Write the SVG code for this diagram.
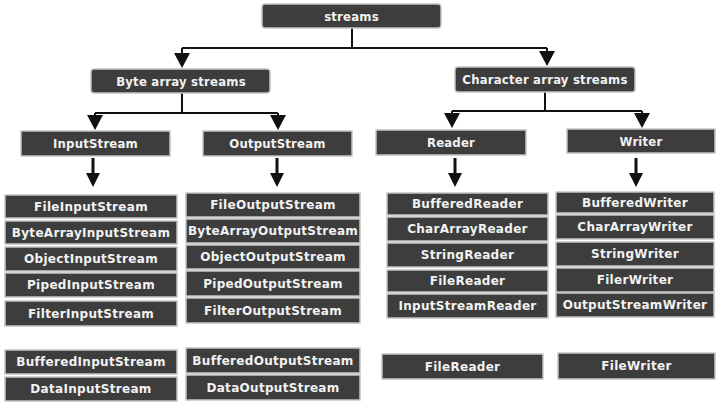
<svg xmlns="http://www.w3.org/2000/svg" width="723" height="406" viewBox="0 0 723 406">
<style>
.b{fill:#3d3d3d;stroke:#c4c4c4;stroke-width:1.5}
.t{fill:#f2f2f2;font-family:"DejaVu Sans",Verdana,sans-serif;font-weight:bold;font-size:12px;letter-spacing:0.3px;text-anchor:middle;dominant-baseline:central}
.h{fill:#f2f2f2;font-family:"DejaVu Sans Condensed","DejaVu Sans",sans-serif;font-weight:bold;font-size:13px;letter-spacing:0.2px;text-anchor:middle;dominant-baseline:central}
.c{fill:none;stroke:#111;stroke-width:2}
.k{fill:none;stroke:#111;stroke-width:3}
.a{fill:#111}
</style>
<rect width="723" height="406" fill="#fff"/>
<g id="connectors">
<path class="c" d="M352 28V48M182 48H547M182 48V55M547 48V53"/>
<polygon class="a" points="174,53 190,53 182,68"/>
<polygon class="a" points="539,51 555,51 547,66"/>
<path class="c" d="M182 93V113M95 113H278M95 113V117M278 113V117"/>
<polygon class="a" points="87,115 103,115 95,130"/>
<polygon class="a" points="270,115 286,115 278,130"/>
<path class="c" d="M545 92V111M452 111H642M452 111V115M642 111V115"/>
<polygon class="a" points="444,113 460,113 452,128"/>
<polygon class="a" points="634,113 650,113 642,128"/>
<path class="k" d="M93 158V175M277 158V175M455 158V175M636 158V175"/>
<polygon class="a" points="86,173 100,173 93,187"/>
<polygon class="a" points="270,173 284,173 277,187"/>
<polygon class="a" points="448,173 462,173 455,187"/>
<polygon class="a" points="629,173 643,173 636,187"/>
</g>
<g id="streams"><rect class="b" x="262" y="4" width="179" height="24" rx="3"/><text class="h" x="351.5" y="16">streams</text></g>
<g id="byte-array-streams"><rect class="b" x="91" y="69" width="179" height="24" rx="3"/><text class="h" x="181" y="81">Byte array streams</text></g>
<g id="character-array-streams"><rect class="b" x="455" y="67" width="180" height="25" rx="3"/><text class="h" x="545" y="79.5">Character array streams</text></g>
<g id="inputstream"><rect class="b" x="21" y="131" width="149" height="25"/><text class="h" x="95.5" y="143.5">InputStream</text></g>
<g id="outputstream"><rect class="b" x="203" y="131" width="149" height="25"/><text class="h" x="277.5" y="143.5">OutputStream</text></g>
<g id="reader"><rect class="b" x="376" y="130" width="150" height="25"/><text class="h" x="451" y="142.5">Reader</text></g>
<g id="writer"><rect class="b" x="567" y="129" width="148" height="24"/><text class="h" x="641" y="141">Writer</text></g>

<g id="fileinputstream"><rect class="b" x="5" y="195" width="172" height="23"/><text class="t" x="91" y="206.5">FileInputStream</text></g>
<g id="bytearrayinputstream"><rect class="b" x="5" y="221" width="172" height="23"/><text class="t" x="91" y="232.5">ByteArrayInputStream</text></g>
<g id="objectinputstream"><rect class="b" x="5" y="247" width="172" height="24"/><text class="t" x="91" y="259">ObjectInputStream</text></g>
<g id="pipedinputstream"><rect class="b" x="5" y="273" width="172" height="24"/><text class="t" x="91" y="285">PipedInputStream</text></g>
<g id="filterinputstream"><rect class="b" x="5" y="301" width="172" height="25"/><text class="t" x="91" y="313.5">FilterInputStream</text></g>
<g id="bufferedinputstream"><rect class="b" x="5" y="350" width="172" height="24"/><text class="t" x="91" y="362">BufferedInputStream</text></g>
<g id="datainputstream"><rect class="b" x="5" y="377" width="172" height="24"/><text class="t" x="91" y="389">DataInputStream</text></g>

<g id="fileoutputstream"><rect class="b" x="186" y="193" width="174" height="24"/><text class="t" x="273" y="205">FileOutputStream</text></g>
<g id="bytearrayoutputstream"><rect class="b" x="186" y="219" width="174" height="24"/><text class="t" x="273" y="231">ByteArrayOutputStream</text></g>
<g id="objectoutputstream"><rect class="b" x="186" y="245" width="174" height="24"/><text class="t" x="273" y="257">ObjectOutputStream</text></g>
<g id="pipedoutputstream"><rect class="b" x="186" y="271" width="174" height="25"/><text class="t" x="273" y="283.5">PipedOutputStream</text></g>
<g id="filteroutputstream"><rect class="b" x="186" y="298" width="174" height="25"/><text class="t" x="273" y="310.5">FilterOutputStream</text></g>
<g id="bufferedoutputstream"><rect class="b" x="186" y="348" width="174" height="25"/><text class="t" x="273" y="360.5">BufferedOutputStream</text></g>
<g id="dataoutputstream"><rect class="b" x="186" y="375" width="174" height="25"/><text class="t" x="273" y="387.5">DataOutputStream</text></g>

<g id="bufferedreader"><rect class="b" x="387" y="193" width="161" height="22"/><text class="t" x="467.5" y="204">BufferedReader</text></g>
<g id="chararrayreader"><rect class="b" x="387" y="217" width="161" height="24"/><text class="t" x="467.5" y="229">CharArrayReader</text></g>
<g id="stringreader"><rect class="b" x="387" y="243" width="161" height="24"/><text class="t" x="467.5" y="255">StringReader</text></g>
<g id="filereader"><rect class="b" x="387" y="270" width="161" height="22"/><text class="t" x="467.5" y="281">FileReader</text></g>
<g id="inputstreamreader"><rect class="b" x="387" y="294" width="161" height="24"/><text class="t" x="467.5" y="306">InputStreamReader</text></g>
<g id="filereader-2"><rect class="b" x="382" y="354" width="161" height="25"/><text class="t" x="462.5" y="366.5">FileReader</text></g>

<g id="bufferedwriter"><rect class="b" x="556" y="192" width="158" height="21"/><text class="t" x="635" y="202.5">BufferedWriter</text></g>
<g id="chararraywriter"><rect class="b" x="556" y="215" width="158" height="24"/><text class="t" x="635" y="227">CharArrayWriter</text></g>
<g id="stringwriter"><rect class="b" x="556" y="242" width="158" height="24"/><text class="t" x="635" y="254">StringWriter</text></g>
<g id="filerwriter"><rect class="b" x="556" y="268" width="158" height="24"/><text class="t" x="635" y="280">FilerWriter</text></g>
<g id="outputstreamwriter"><rect class="b" x="556" y="293" width="158" height="24"/><text class="t" x="635" y="305">OutputStreamWriter</text></g>
<g id="filewriter"><rect class="b" x="558" y="353" width="157" height="26"/><text class="t" x="636.5" y="366">FileWriter</text></g>
</svg>
